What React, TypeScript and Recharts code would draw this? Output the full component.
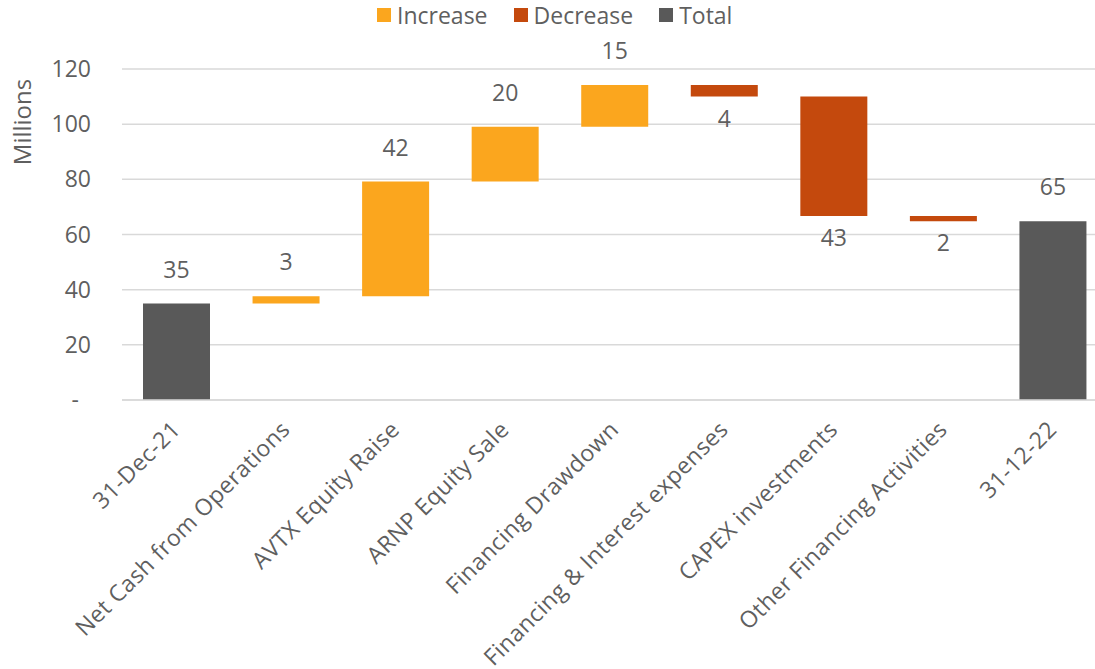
import React from 'react'
import { BarChart, Bar, XAxis, YAxis, CartesianGrid, Cell, LabelList } from 'recharts'

const categories = [
  '31-Dec-21',
  'Net Cash from Operations',
  'AVTX Equity Raise',
  'ARNP Equity Sale',
  'Financing Drawdown',
  'Financing & Interest expenses',
  'CAPEX investments',
  'Other Financing Activities',
  '31-12-22',
]
const openingBalance = 35.0
const movements = [2.6, 41.6, 19.9, 15.1, -4.2, -43.3, -1.9]
const closingBalance = 64.8
const yTicks = [0, 20, 40, 60, 80, 100, 120]

const COLORS: Record<string, string> = {
  increase: '#FBA61E',
  decrease: '#C4490D',
  total: '#595959',
}
const TEXT = '#5f5f5f'
const GRID = '#d9d9d9'

type Row = { name: string; base: number; amount: number; kind: string }

// build the stacked rows: invisible base + visible step
const rows: Row[] = []
rows.push({ name: categories[0], base: 0, amount: openingBalance, kind: 'total' })
let running = openingBalance
movements.forEach((m, i) => {
  const next = running + m
  rows.push({
    name: categories[i + 1],
    base: Math.min(running, next),
    amount: Math.abs(m),
    kind: m >= 0 ? 'increase' : 'decrease',
  })
  running = next
})
rows.push({ name: categories[categories.length - 1], base: 0, amount: closingBalance, kind: 'total' })

const XTick = (props: any) => {
  const { x, y, payload } = props
  return (
    <g transform={`translate(${x + 5},${y + 31})`}>
      <text transform="rotate(-45)" textAnchor="end" fill={TEXT} fontSize={23} letterSpacing={0.45}>
        {payload.value}
      </text>
    </g>
  )
}

// y labels end at x=91 in the picture, the zero tick is a dash set further in
const YTick = (props: any) => {
  const { y, payload } = props
  const zero = payload.value === 0
  return (
    <text x={zero ? 79 : 91} y={y} dy="0.35em" textAnchor="end" fill={TEXT} fontSize={23}>
      {zero ? '-' : payload.value}
    </text>
  )
}

const StepLabel = (props: any) => {
  const { x, y, width, height, index } = props
  const row = rows[index]
  const cx = x + width / 2
  const ly = row.kind === 'decrease' ? y + height + 22 : y - 34
  return (
    <text x={cx} y={ly} dy="0.35em" textAnchor="middle" fill={TEXT} fontSize={23}>
      {Math.round(row.amount)}
    </text>
  )
}

const legendItems = [
  { label: 'Increase', color: COLORS.increase },
  { label: 'Decrease', color: COLORS.decrease },
  { label: 'Total', color: COLORS.total },
]

export default function App() {
  return (
    <div
      style={{
        position: 'absolute',
        left: 0,
        top: 0,
        width: 1095,
        height: 669,
        overflow: 'hidden',
        background: '#fff',
        fontFamily: '"Open Sans", sans-serif',
      }}
    >
      {/* Legend */}
      <div
        style={{
          position: 'absolute',
          left: 377,
          top: 0,
          height: 29,
          display: 'flex',
          alignItems: 'center',
          gap: 26,
          color: TEXT,
          fontSize: 23,
        }}
      >
        {legendItems.map((it) => (
          <div key={it.label} style={{ display: 'flex', alignItems: 'center', gap: 6 }}>
            <span style={{ width: 14, height: 14, background: it.color, display: 'inline-block' }} />
            <span>{it.label}</span>
          </div>
        ))}
      </div>

      <BarChart width={1108} height={669} data={rows} margin={{ top: 69, right: 0, bottom: 0, left: 0 }}>
        <CartesianGrid vertical={false} stroke={GRID} strokeWidth={1.5} />
        <XAxis
          dataKey="name"
          interval={0}
          height={269}
          tickLine={false}
          tickSize={0}
          tickMargin={0}
          axisLine={{ stroke: GRID, strokeWidth: 1.5 }}
          tick={<XTick />}
        />
        <YAxis
          width={122}
          domain={[0, 120]}
          ticks={yTicks}
          axisLine={false}
          tickLine={false}
          tick={<YTick />}
          label={{
            content: () => (
              <text
                x={21}
                y={122}
                transform="rotate(-90, 21, 122)"
                textAnchor="middle"
                dominantBaseline="central"
                fill={TEXT}
                fontSize={24}
              >
                Millions
              </text>
            ),
          }}
        />
        <Bar dataKey="base" stackId="w" fill="transparent" barSize={67} isAnimationActive={false} />
        <Bar dataKey="amount" stackId="w" barSize={67} isAnimationActive={false}>
          {rows.map((r, i) => (
            <Cell key={i} fill={COLORS[r.kind]} />
          ))}
          <LabelList content={<StepLabel />} />
        </Bar>
      </BarChart>
    </div>
  )
}
